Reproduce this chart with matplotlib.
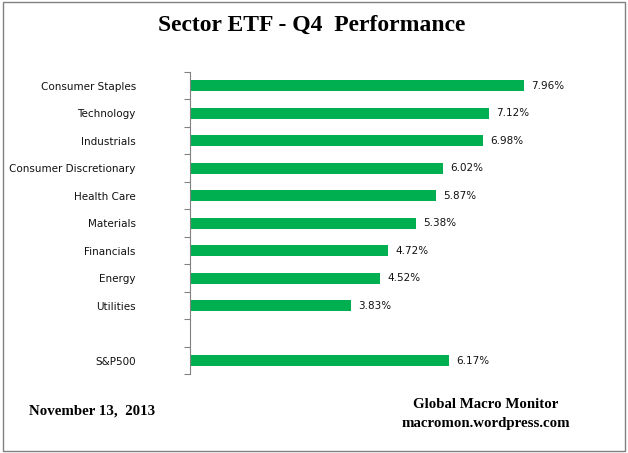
# Sektor ETF Q4 performans grafigi
import matplotlib.pyplot as plt
from matplotlib.patches import Rectangle
from matplotlib.ticker import FixedLocator, NullFormatter

# kategoriler ustten alta, bos satir S&P'yi ayiriyor
sektorler = ["Consumer Staples", "Technology", "Industrials",
             "Consumer Discretionary", "Health Care", "Materials",
             "Financials", "Energy", "Utilities", "", "S&P500"]
getiriler = [7.96, 7.12, 6.98, 6.02, 5.87, 5.38, 4.72, 4.52, 3.83, None, 6.17]

fig = plt.figure(figsize=(6.28, 4.53), dpi=100)
ax = fig.add_axes([0.3025, 0.1733, 0.64, 0.6678])

n = len(sektorler)
ypos = list(range(n))
for y, d in zip(ypos, getiriler):
    if d is None:
        continue
    ax.barh(y, d, height=0.4, color="#00B050")
    ax.text(d + 0.17, y, f"{d:.2f}%", va="center", ha="left",
            fontsize=7.5, color="#111111")

ax.set_ylim(n - 0.5, -0.5)
ax.set_xlim(0, 9.57)
ax.set_yticks(ypos)
ax.set_yticklabels(sektorler, fontsize=7.5, color="#111111")
ax.tick_params(axis="y", which="major", length=0, pad=39)
ax.yaxis.set_minor_locator(FixedLocator([i - 0.5 for i in range(n + 1)]))
ax.yaxis.set_minor_formatter(NullFormatter())
ax.tick_params(axis="y", which="minor", length=4, color="#808080", width=0.8)
ax.set_xticks([])

for yer in ["top", "right", "bottom"]:
    ax.spines[yer].set_visible(False)
ax.spines["left"].set_color("#808080")
ax.spines["left"].set_linewidth(0.8)

# baslik ve alt yazilar
serif = ["Liberation Serif", "DejaVu Serif"]
fig.text(0.497, 0.945, "Sector ETF - Q4  Performance", ha="center", va="center",
         fontsize=17, fontweight="bold", family=serif)
fig.text(0.046, 0.093, "November 13,  2013", ha="left", va="center",
         fontsize=10.7, fontweight="bold", family=serif)
fig.text(0.773, 0.106, "Global Macro Monitor", ha="center", va="center",
         fontsize=10.7, fontweight="bold", family=serif)
fig.text(0.773, 0.066, "macromon.wordpress.com", ha="center", va="center",
         fontsize=10.7, fontweight="bold", family=serif)

# cerceve
fig.patches.append(Rectangle((0.004, 0.005), 0.992, 0.99, transform=fig.transFigure,
                             fill=False, edgecolor="#808080", linewidth=1))

fig.savefig("out.png", dpi=100)
